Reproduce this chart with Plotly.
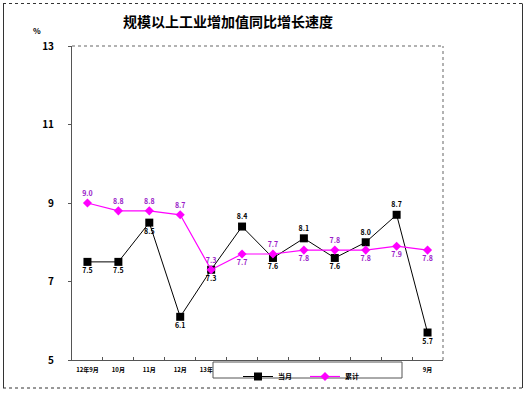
import plotly.graph_objects as go

categories = ["12年9月", "10月", "11月", "12月", "13年2月", "3月", "4月", "5月", "6月", "7月", "8月", "9月"]
monthly = [7.5, 7.5, 8.5, 6.1, 7.3, 8.4, 7.6, 8.1, 7.6, 8.0, 8.7, 5.7]
cumulative = [9.0, 8.8, 8.8, 8.7, 7.3, 7.7, 7.7, 7.8, 7.8, 7.8, 7.9, 7.8]
monthly_pos = ["bottom center", "bottom center", "bottom center", "bottom center", "bottom center",
               "top center", "bottom center", "top center", "bottom center", "top center",
               "top center", "bottom center"]
cumulative_pos = ["top center", "top center", "top center", "top center", "top center",
                  "bottom center", "top center", "bottom center", "top center", "bottom center",
                  "bottom center", "bottom center"]
y_ticks = [5, 7, 9, 11, 13]

FONT = "Noto Sans CJK SC, Liberation Sans, Arial"
x = list(range(len(categories)))

fig = go.Figure()
fig.add_trace(go.Scatter(
    x=x, y=monthly, name="当月", mode="lines+markers+text",
    line=dict(color="#000000", width=1),
    marker=dict(symbol="square", size=8, color="#000000"),
    text=[f"{v:.1f}" for v in monthly], textposition=monthly_pos,
    textfont=dict(size=7, color="#000000", family=FONT, weight="bold"),
    cliponaxis=False,
))
fig.add_trace(go.Scatter(
    x=x, y=cumulative, name="累计", mode="lines+markers+text",
    line=dict(color="#ff00ff", width=1.2),
    marker=dict(symbol="diamond", size=7, color="#ff00ff"),
    text=[f"{v:.1f}" for v in cumulative], textposition=cumulative_pos,
    textfont=dict(size=7, color="#9a1cc8", family=FONT, weight="bold"),
    cliponaxis=False,
))

L, R, T, B = 72, 443, 46, 360
W, H = 527, 395

def px(xp):
    return (xp - L) / (R - L)

def py(yp):
    return (B - yp) / (B - T)

fig.update_layout(
    width=W, height=H,
    margin=dict(l=L, r=W - R, t=T, b=H - B, autoexpand=False),
    paper_bgcolor="white", plot_bgcolor="white",
    font=dict(family=FONT, size=9, color="black"),
    showlegend=True,
    legend=dict(
        orientation="h", x=px(238), xanchor="left", y=py(362), yanchor="top",
        bgcolor="rgba(0,0,0,0)", borderwidth=0,
        font=dict(size=7, family=FONT, weight="bold"),
        entrywidth=22, entrywidthmode="pixels",
        itemwidth=30,
    ),
    xaxis=dict(
        range=[-0.5, len(categories) - 0.5], tickmode="array", tickvals=x, ticktext=categories,
        showgrid=False, zeroline=False, showline=True, linecolor="#555555", linewidth=1,
        ticks="", tickfont=dict(size=6, family=FONT, weight="bold"),
        ticklabelstandoff=4,
        minor=dict(tickmode="array", tickvals=[i + 0.5 for i in range(len(categories) - 1)],
                   ticks="inside", ticklen=3, tickcolor="#555555"),
        fixedrange=True,
    ),
    yaxis=dict(
        range=[5, 13], tickmode="array", tickvals=y_ticks, ticktext=[str(v) for v in y_ticks],
        showgrid=False, zeroline=False, showline=True, linecolor="#555555", linewidth=1,
        ticks="outside", ticklen=3, tickcolor="#555555",
        tickfont=dict(size=10, family=FONT, weight="bold"),
        ticklabelstandoff=12,
        fixedrange=True,
    ),
    annotations=[
        dict(text="规模以上工业增加值同比增长速度", xref="paper", yref="paper",
             x=px(228), y=py(21), xanchor="center", yanchor="middle", showarrow=False,
             font=dict(size=14, family=FONT, weight="bold")),
        dict(text="%", xref="paper", yref="paper", x=px(37), y=py(30),
             xanchor="center", yanchor="middle", showarrow=False,
             font=dict(size=8, family=FONT, weight="bold")),
    ],
    shapes=[
        dict(type="line", xref="paper", yref="paper", x0=0, x1=1, y0=1, y1=1,
             line=dict(color="#999999", width=1.5, dash="dot")),
        dict(type="line", xref="paper", yref="paper", x0=1, x1=1, y0=0, y1=1,
             line=dict(color="#999999", width=1.5, dash="dot")),
        dict(type="line", xref="paper", yref="paper", x0=px(3), x1=px(523), y0=py(3.5), y1=py(3.5),
             line=dict(color="#333333", width=1, dash="dot")),
        dict(type="line", xref="paper", yref="paper", x0=px(3), x1=px(523), y0=py(388), y1=py(388),
             line=dict(color="#333333", width=1, dash="dot")),
        dict(type="line", xref="paper", yref="paper", x0=px(3.5), x1=px(3.5), y0=py(3.5), y1=py(388),
             line=dict(color="#333333", width=1)),
        dict(type="line", xref="paper", yref="paper", x0=px(522.5), x1=px(522.5), y0=py(3.5), y1=py(388),
             line=dict(color="#333333", width=1)),
        dict(type="rect", xref="paper", yref="paper", layer="above",
             x0=px(213), x1=px(402), y0=py(378), y1=py(362),
             fillcolor="white", line=dict(color="#555555", width=1)),
    ],
)

fig.write_html("out.html", config={"displayModeBar": False},
               post_script="document.body.style.margin='0';document.body.style.overflow='hidden';")
